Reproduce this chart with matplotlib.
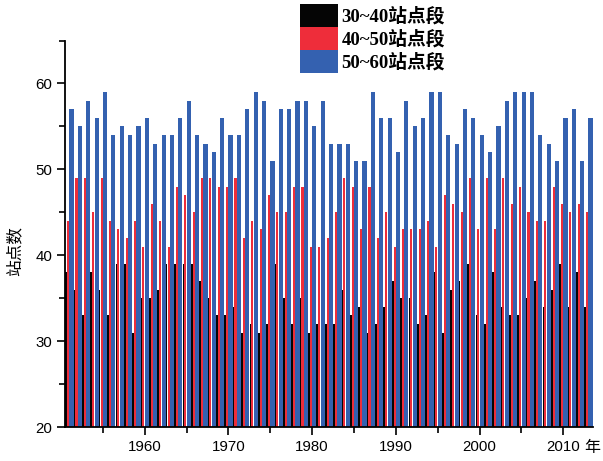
import numpy as np
import matplotlib.pyplot as plt
from matplotlib.ticker import MultipleLocator

plt.rcParams['font.family'] = ['Liberation Sans', 'Noto Sans CJK SC']

years = np.arange(1951, 2014)

# number of stations in each band, per year
band_30_40 = [38, 36, 33, 38, 36, 33, 39, 39, 31, 35, 35, 36, 39, 39, 39, 39, 37, 35, 33, 33, 34,
              31, 32, 31, 32, 39, 35, 32, 35, 31, 32, 32, 32, 36, 33, 34, 31, 32, 34, 37, 35,
              35, 32, 33, 38, 31, 36, 37, 39, 33, 32, 38, 34, 33, 33, 35, 37, 34, 36, 39, 34, 38, 34]
band_40_50 = [44, 49, 49, 45, 49, 44, 43, 42, 44, 41, 46, 44, 41, 48, 47, 45, 49, 49, 48, 48, 49,
              42, 44, 43, 47, 45, 45, 48, 48, 41, 41, 42, 45, 49, 48, 43, 48, 42, 45, 41, 43,
              43, 43, 44, 41, 47, 46, 45, 49, 43, 49, 43, 49, 46, 48, 45, 44, 44, 48, 46, 45, 46, 45]
band_50_60 = [57, 55, 58, 56, 59, 54, 55, 54, 55, 56, 53, 54, 54, 56, 58, 54, 53, 52, 56, 54, 54,
              57, 59, 58, 51, 57, 57, 58, 58, 55, 58, 53, 53, 53, 51, 51, 59, 56, 56, 52, 58,
              55, 56, 59, 59, 54, 53, 57, 56, 54, 52, 55, 58, 59, 59, 59, 54, 53, 51, 56, 57, 51, 56]

labels = ['30~40站点段', '40~50站点段', '50~60站点段']
colors = ['#050505', '#ee2d3a', '#3461b0']

base = 20
fig = plt.figure(figsize=(6.03, 4.61), dpi=100)
ax = fig.add_axes([65 / 603, 1 - 427 / 461, 528 / 603, 386.5 / 461])

ax.bar(years - 0.38, np.array(band_30_40) - base, width=0.2, bottom=base,
       color=colors[0], label=labels[0])
ax.bar(years - 0.15, np.array(band_40_50) - base, width=0.25, bottom=base,
       color=colors[1], label=labels[1])
ax.bar(years + 0.26, np.array(band_50_60) - base, width=0.5, bottom=base,
       color=colors[2], label=labels[2])

ax.set_xlim(1950.48, 2013.55)
ax.set_ylim(20, 65)
ax.xaxis.set_major_locator(MultipleLocator(10))
ax.xaxis.set_minor_locator(MultipleLocator(5))
ax.yaxis.set_minor_locator(MultipleLocator(5))
ax.set_yticks([20, 30, 40, 50, 60])

for side in ['top', 'right']:
    ax.spines[side].set_visible(False)
for side in ['left', 'bottom']:
    ax.spines[side].set_linewidth(1.3)

ax.tick_params(which='major', direction='out', length=6, width=1.2,
               labelsize=10.8, pad=3)
ax.tick_params(which='minor', direction='out', length=4, width=1.2)

ax.set_ylabel('站点数', family=['Noto Sans CJK SC'], fontsize=12)
ax.yaxis.set_label_coords(-0.078, 0.455)

fig.text(592 / 603, 1 - 447 / 461, '年', family=['Noto Sans CJK SC'],
         fontsize=11.5, ha='center', va='center')

leg = fig.legend(loc='upper left', bbox_to_anchor=(300 / 603, 1 - 4 / 461),
                 frameon=False, borderpad=0, labelspacing=0, handlelength=2.0,
                 handleheight=1.5, handletextpad=0.2, borderaxespad=0,
                 prop={'family': ['Liberation Serif', 'Noto Sans CJK SC'],
                       'size': 13.5, 'weight': 'bold'})

fig.savefig('out.png', dpi=100, facecolor='white')
